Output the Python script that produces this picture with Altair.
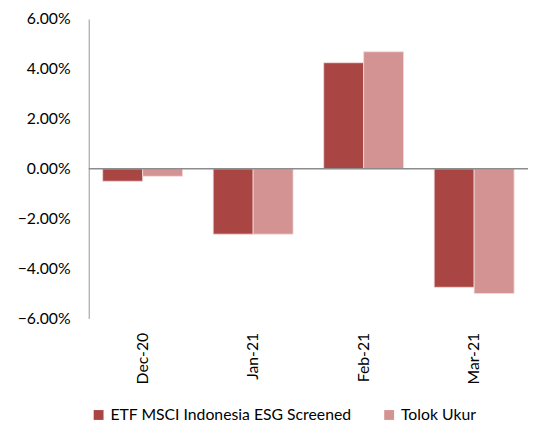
import altair as alt
import pandas as pd

months = ["Dec-20", "Jan-21", "Feb-21", "Mar-21"]
series = ["ETF MSCI Indonesia ESG Screened", "Tolok Ukur"]
etf_pct = [-0.50, -2.62, 4.25, -4.75]
bench_pct = [-0.30, -2.62, 4.69, -5.00]
y_ticks = [-0.06, -0.04, -0.02, 0.0, 0.02, 0.04, 0.06]
colors = ["#A94543", "#D39392"]

rows = []
for m, a, b in zip(months, etf_pct, bench_pct):
    rows.append({"month": m, "series": series[0], "value": a / 100})
    rows.append({"month": m, "series": series[1], "value": b / 100})
df = pd.DataFrame(rows)

FONT = "Lato"

bars = alt.Chart(df).mark_bar(stroke="#F2DCDB", strokeWidth=0.8).encode(
    x=alt.X("month:N", sort=months, title=None,
            scale=alt.Scale(paddingInner=0.277, paddingOuter=0.126),
            axis=alt.Axis(orient="bottom", labelAngle=-90, domain=False, ticks=False,
                          labelPadding=14, labelFontSize=16, labelFont=FONT,
                          labelColor="#000000", labelAlign="right", labelBaseline="middle")),
    xOffset=alt.XOffset("series:N", sort=series),
    y=alt.Y("value:Q", title=None,
            scale=alt.Scale(domain=[-0.06, 0.06], nice=False, zero=False),
            axis=alt.Axis(values=y_ticks, format=".2%", grid=False, ticks=False,
                          domainColor="#A6A6A6", domainWidth=1.2, labelPadding=19,
                          labelFontSize=16, labelFont=FONT, labelColor="#000000")),
    color=alt.Color("series:N", sort=series,
                    scale=alt.Scale(domain=series, range=colors),
                    legend=alt.Legend(title=None, orient="none", legendX=2, legendY=394,
                                      direction="horizontal", symbolType="square",
                                      symbolSize=100, symbolStrokeWidth=0,
                                      labelFontSize=16, labelFont=FONT, labelColor="#000000",
                                      labelLimit=0, columnPadding=30, padding=0,
                                      labelOffset=4)),
)

zero = alt.Chart(pd.DataFrame({"y": [0.0]})).mark_rule(color="#8C8C8C", strokeWidth=1.5).encode(
    y="y:Q"
)

chart = (bars + zero).properties(
    width=446, height=304,
    autosize=alt.AutoSizeParams(type="none"),
    padding={"left": 82, "top": 8, "right": 1, "bottom": 110},
).configure_view(stroke=None)

chart.save("out.html", embed_options={"renderer": "svg", "actions": False})
